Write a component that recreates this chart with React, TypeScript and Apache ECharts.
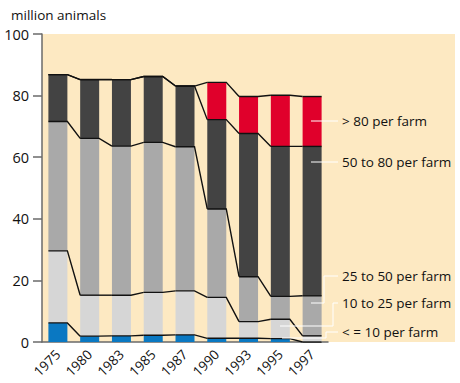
import React, { useEffect, useRef } from "react";
import * as echarts from "echarts";

const years = ["1975", "1980", "1983", "1985", "1987", "1990", "1993", "1995", "1997"];
const upTo10 = [6.2, 1.9, 2.0, 2.2, 2.3, 1.2, 1.2, 1.1, 0];
const from10to25 = [23.4, 13.3, 13.2, 13.9, 14.3, 13.3, 5.4, 6.3, 2.0];
const from25to50 = [42.0, 50.9, 48.4, 48.7, 46.8, 28.7, 14.6, 7.4, 13.0];
const from50to80 = [15.2, 19.1, 21.6, 21.4, 19.7, 29.0, 46.5, 48.7, 48.5];
const over80 = [0, 0, 0, 0, 0, 12.1, 12.0, 16.6, 16.2];
const yTicks = [0, 20, 40, 60, 80, 100];

const seriesNames = ["< = 10 per farm", "10 to 25 per farm", "25 to 50 per farm", "50 to 80 per farm", "> 80 per farm"];
const seriesData = [upTo10, from10to25, from25to50, from50to80, over80];
const colors = ["#0a78c2", "#d6d6d6", "#a9a9a9", "#434343", "#e0002b"];

const BAR_W = 19;
const FONT = "'Open Sans', sans-serif";

export default function App() {
  const ref = useRef<HTMLDivElement>(null);
  useEffect(() => {
    if (!ref.current) return;
    const chart = echarts.init(ref.current, null, { renderer: "svg" });

    // cumulative boundaries
    const cums: number[][] = [];
    let running = years.map(() => 0);
    seriesData.forEach((arr) => {
      running = running.map((r, i) => +(r + arr[i]).toFixed(2));
      cums.push(running.slice());
    });

    const barSeries = seriesData.map((arr, k) => ({
      name: seriesNames[k],
      type: "bar",
      stack: "total",
      barWidth: BAR_W,
      data: arr,
      itemStyle: { color: colors[k] },
      z: 2,
    }));

    const lineSeries = cums.map((c, k) => ({
      type: "custom",
      name: "line" + k,
      z: 5,
      encode: { x: 0, y: 1 },
      data: c.map((v, i) => [i, v, i < c.length - 1 ? c[i + 1] : v]),
      renderItem: (params: any, api: any) => {
        const i = api.value(0);
        const v = api.value(1);
        const vn = api.value(2);
        const p = api.coord([i, v]);
        const half = BAR_W / 2;
        const pts: number[][] = [
          [p[0] - half, p[1]],
          [p[0] + half, p[1]],
        ];
        if (i < years.length - 1) {
          const q = api.coord([i + 1, vn]);
          pts.push([q[0] - half, q[1]]);
        }
        return {
          type: "polyline",
          shape: { points: pts },
          style: { stroke: "#111", lineWidth: 1.4, fill: null },
        };
      },
    }));

    const white = { stroke: "#ffffff", lineWidth: 1, fill: null };
    const labelStyle = (text: string, y: number) => ({
      type: "text",
      x: 342,
      y,
      z: 10,
      style: { text, fill: "#111", fontSize: 13.5, fontFamily: FONT, verticalAlign: "middle" },
    });

    chart.setOption({
      animation: false,
      title: {
        text: "million animals",
        left: 6,
        top: 3,
        textStyle: { fontSize: 13.5, fontWeight: "normal", color: "#111", fontFamily: FONT },
      },
      grid: { left: 42, right: 132, top: 34, bottom: 41, containLabel: false },
      xAxis: {
        type: "category",
        data: years,
        axisLine: { lineStyle: { color: "#6a6a6a", width: 1.5 } },
        axisTick: { length: 9, lineStyle: { color: "#6a6a6a", width: 1.5 } },
        axisLabel: { rotate: 45, fontSize: 13.5, color: "#111", fontFamily: FONT, margin: 10 },
      },
      yAxis: {
        type: "value",
        min: 0,
        max: 100,
        interval: 20,
        axisLine: { show: true, lineStyle: { color: "#6a6a6a", width: 1.5 } },
        axisTick: { show: true, length: 9, lineStyle: { color: "#6a6a6a", width: 1.5 } },
        splitLine: { show: false },
        axisLabel: {
          fontSize: 14.5,
          color: "#111",
          fontFamily: FONT,
          margin: 13,
          formatter: (v: number) => (yTicks.includes(v) ? String(v) : ""),
        },
      },
      graphic: {
        elements: [
          { type: "rect", z: -10, shape: { x: 42, y: 34, width: 413, height: 308 }, style: { fill: "#fde9c2" } },
          { type: "line", z: 10, shape: { x1: 311, y1: 121, x2: 338, y2: 121 }, style: white },
          { type: "line", z: 10, shape: { x1: 311, y1: 162, x2: 338, y2: 162 }, style: white },
          { type: "polyline", z: 10, shape: { points: [[338, 276], [324, 276], [324, 303], [311, 303]] }, style: white },
          { type: "polyline", z: 10, shape: { points: [[338, 303], [333, 303], [333, 326], [280, 326]] }, style: white },
          { type: "polyline", z: 10, shape: { points: [[338, 332], [326, 332], [326, 338], [282, 338]] }, style: white },
          labelStyle("> 80 per farm", 121),
          labelStyle("50 to 80 per farm", 162),
          labelStyle("25 to 50 per farm", 276),
          labelStyle("10 to 25 per farm", 303),
          labelStyle("< = 10 per farm", 332),
        ],
      },
      series: [...barSeries, ...lineSeries],
    });
    return () => chart.dispose();
  }, []);
  return <div ref={ref} style={{ position: "absolute", left: 0, top: 0, width: 460, height: 383 }} />;
}
